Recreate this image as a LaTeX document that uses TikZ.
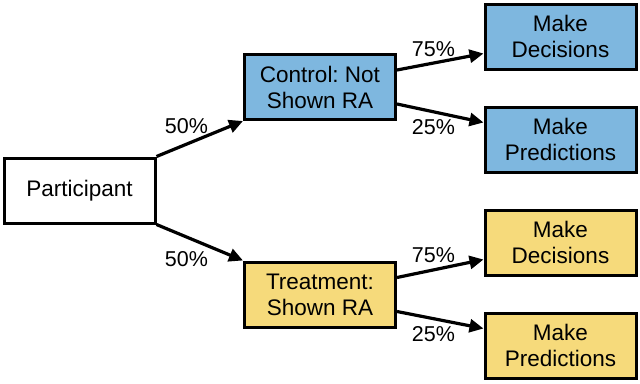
\documentclass[tikz,border=0pt]{standalone}
\usepackage{fontspec}
\setmainfont{Liberation Sans}
\frenchspacing
\usetikzlibrary{arrows.meta,calc}
\definecolor{boxblue}{RGB}{126,183,223}
\definecolor{boxyellow}{RGB}{246,218,123}
\begin{document}
\begin{tikzpicture}[x=1pt,y=-1pt,
  box/.style={draw=black,line width=3pt,minimum width=151pt,minimum height=65pt,inner sep=0pt,align=center,font=\fontsize{22.5}{26}\selectfont},
  bluebox/.style={box,fill=boxblue},
  yellowbox/.style={box,fill=boxyellow},
  conn/.style={line width=3.2pt,-{Triangle[length=14pt,width=13pt]}},
  pct/.style={font=\fontsize{21.5}{24}\selectfont,inner sep=0pt}]
\useasboundingbox (0,0) rectangle (640,383);
\node[box,fill=white] (part) at (79.5,190.5) {Participant};
\node[bluebox] (ctrl) at (320,87) {Control: Not\\Shown RA};
\node[yellowbox] (treat) at (320,294.5) {Treatment:\\Shown RA};
\node[bluebox] (md1) at (560.5,36.5) {Make\\Decisions};
\node[bluebox] (mp1) at (560.5,139.5) {Make\\Predictions};
\node[yellowbox] (md2) at (560.5,242.5) {Make\\Decisions};
\node[yellowbox] (mp2) at (560.5,345.5) {Make\\Predictions};
\draw[conn] (part.north east) -- (ctrl.south west);
\draw[conn] (part.south east) -- (treat.north west);
\draw[conn] ($(ctrl.east)+(0,-17)$) -- ($(md1.west)+(0,17)$);
\draw[conn] ($(ctrl.east)+(0,17)$) -- ($(mp1.west)+(0,-17)$);
\draw[conn] ($(treat.east)+(0,-17)$) -- ($(md2.west)+(0,17)$);
\draw[conn] ($(treat.east)+(0,17)$) -- ($(mp2.west)+(0,-17)$);
\node[pct] (l1) at (186.5,126) {50\%};
\node[pct] (l2) at (186.5,259) {50\%};
\node[pct] (l3) at (433.5,49) {75\%};
\node[pct] (l4) at (433.5,127.5) {25\%};
\node[pct] (l5) at (433.5,255.5) {75\%};
\node[pct] (l6) at (433.5,334.5) {25\%};
\end{tikzpicture}
\end{document}
